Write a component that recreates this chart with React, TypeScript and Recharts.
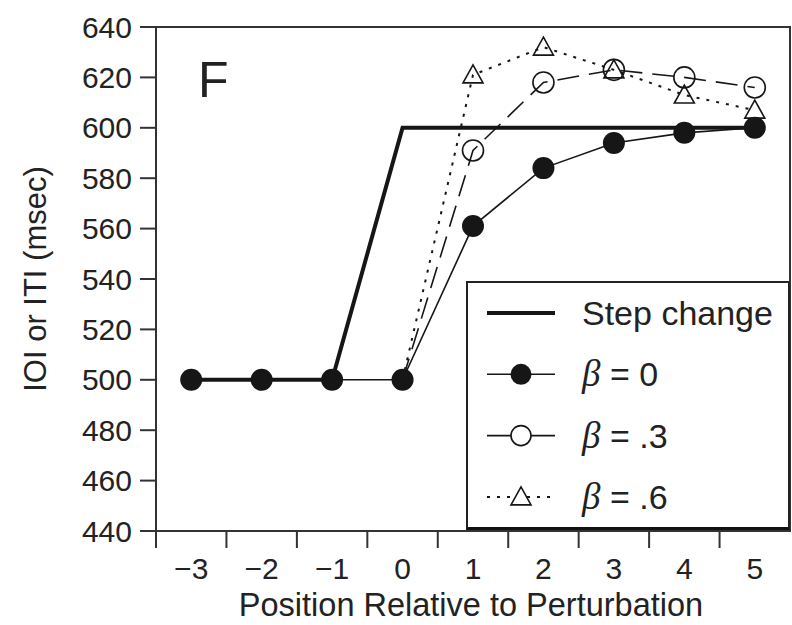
import React from 'react';
import { LineChart, Line, XAxis, YAxis, ReferenceArea, Legend } from 'recharts';

const POSITIONS = [-3, -2, -1, 0, 1, 2, 3, 4, 5];
const STEP_CHANGE = [500, 500, 500, 600, 600, 600, 600, 600, 600];
const BETA_0 = [500, 500, 500, 500, 561, 584, 594, 598, 600];
// the beta .3 / .6 runs are hidden under beta 0 before the perturbation
const BETA_03 = [null, null, null, 500, 591, 618, 623, 620, 616];
const BETA_06 = [null, null, null, 500, 621, 632, 623, 613, 607];
const Y_TICKS = [440, 460, 480, 500, 520, 540, 560, 580, 600, 620, 640];

const data = POSITIONS.map((pos, i) => ({
  pos,
  step: STEP_CHANGE[i],
  b0: BETA_0[i],
  b3: BETA_03[i],
  b6: BETA_06[i],
}));

const FONT = "'Liberation Sans', Arial, Helvetica, sans-serif";
const INK = '#161616';
const W = 792;
const H = 625;
const MARGIN = { top: 27, right: 2, bottom: 0, left: 0 };
const Y_AXIS_W = 156;
// half the distance between two categories, for the tick marks between labels
const HALF_STEP = (W - Y_AXIS_W - MARGIN.right) / 9 / 2;

const fmt = (v: number) => (v < 0 ? `\u2212${-v}` : `${v}`);

const XTick = (props: any) => {
  const { x, y, payload } = props;
  return (
    <g>
      <line x1={x - HALF_STEP} x2={x - HALF_STEP} y1={y} y2={y + 17} stroke="#333" strokeWidth={2} />
      <text x={x} y={y + 48} textAnchor="middle" fontSize={30} fontFamily={FONT} fill="#222">
        {fmt(payload.value)}
      </text>
    </g>
  );
};

const openCircle = (props: any) => {
  const { cx, cy, payload, index } = props;
  if (payload.pos <= 0 || cy == null) return <g key={`c-${index}`} />;
  return <circle key={`c-${index}`} cx={cx} cy={cy} r={10.5} fill="none" stroke={INK} strokeWidth={1.6} />;
};

const openTriangle = (props: any) => {
  const { cx, cy, payload, index } = props;
  if (payload.pos <= 0 || cy == null) return <g key={`t-${index}`} />;
  return (
    <path
      key={`t-${index}`}
      d={`M${cx - 10},${cy + 8} L${cx + 10},${cy + 8} L${cx},${cy - 10} Z`}
      fill="none"
      stroke={INK}
      strokeWidth={1.6}
    />
  );
};

const LEGEND_ROWS = [
  { key: 'step', label: 'Step change' },
  { key: 'b0', label: '0' },
  { key: 'b3', label: '.3' },
  { key: 'b6', label: '.6' },
];

const renderLegend = () => (
  <div
    style={{
      width: '100%',
      height: '100%',
      boxSizing: 'border-box',
      borderLeft: '2px solid #222',
      borderTop: '2px solid #222',
      borderRight: '2px solid #222',
      borderBottom: '3px solid #111',
      background: '#fff',
    }}
  >
    <svg width={320} height={244} style={{ display: 'block' }}>
      {LEGEND_ROWS.map((row, i) => {
        const cy = 30 + i * 61.3;
        return (
          <g key={row.key}>
            {row.key === 'step' && <line x1={19} x2={87} y1={cy} y2={cy} stroke={INK} strokeWidth={4} />}
            {row.key === 'b0' && (
              <>
                <line x1={19} x2={87} y1={cy} y2={cy} stroke={INK} strokeWidth={1.6} />
                <circle cx={53} cy={cy} r={10.5} fill={INK} />
              </>
            )}
            {row.key === 'b3' && (
              <>
                <line x1={19} x2={87} y1={cy} y2={cy} stroke={INK} strokeWidth={1.6} />
                <circle cx={53} cy={cy} r={10} fill="#fff" stroke={INK} strokeWidth={1.6} />
              </>
            )}
            {row.key === 'b6' && (
              <>
                <line x1={19} x2={87} y1={cy} y2={cy} stroke={INK} strokeWidth={2} strokeDasharray="3 7" />
                <path
                  d={`M43,${cy + 8} L63,${cy + 8} L53,${cy - 10} Z`}
                  fill="#fff"
                  stroke={INK}
                  strokeWidth={1.6}
                />
              </>
            )}
            <text x={114} y={cy + 12} fontSize={34} fontFamily={FONT} fill="#222">
              {row.key === 'step' ? (
                row.label
              ) : (
                <>
                  <tspan fontFamily="'Liberation Serif', 'Times New Roman', serif" fontStyle="italic" fontSize={37}>
                    β
                  </tspan>
                  <tspan>{` = ${row.label}`}</tspan>
                </>
              )}
            </text>
          </g>
        );
      })}
    </svg>
  </div>
);

export default function App() {
  return (
    <div style={{ position: 'absolute', left: 0, top: 0, width: W, height: H, background: '#fff' }}>
      <LineChart width={W} height={H} data={data} margin={MARGIN}>
        <XAxis
          dataKey="pos"
          type="number"
          domain={[-3.5, 5.5]}
          ticks={POSITIONS}
          interval={0}
          height={H - 531}
          tickSize={0}
          tickMargin={0}
          tickLine={false}
          axisLine={{ stroke: '#333', strokeWidth: 2 }}
          tick={<XTick />}
          label={{
            content: (p: any) => {
              const vb = p.viewBox;
              return (
                <text x={vb.x + vb.width / 2 - 2} y={vb.y + 85} textAnchor="middle" fontSize={32.5} fontFamily={FONT} fill="#222">
                  Position Relative to Perturbation
                </text>
              );
            },
          }}
        />
        <YAxis
          type="number"
          domain={[440, 640]}
          ticks={Y_TICKS}
          interval={0}
          width={Y_AXIS_W}
          tickSize={16}
          tickMargin={8}
          axisLine={{ stroke: '#333', strokeWidth: 2 }}
          tickLine={{ stroke: '#333', strokeWidth: 2 }}
          tick={{ fontSize: 30, fill: '#222', fontFamily: FONT }}
          label={{
            content: (p: any) => {
              const vb = p.viewBox;
              const x = vb.x + 35;
              const y = vb.y + vb.height / 2;
              return (
                <text
                  x={x}
                  y={y}
                  transform={`rotate(-90 ${x} ${y})`}
                  textAnchor="middle"
                  dominantBaseline="central"
                  fontSize={31}
                  fontFamily={FONT}
                  fill="#222"
                >
                  IOI or ITI (msec)
                </text>
              );
            },
          }}
        />
        <ReferenceArea
          x1={-3.5}
          x2={5.5}
          y1={440}
          y2={640}
          fill="none"
          stroke="#333"
          strokeWidth={2}
          ifOverflow="visible"
          label={{
            content: (p: any) => {
              const vb = p.viewBox;
              return (
                <text x={vb.x + 42} y={vb.y + 70} fontSize={50} fontFamily={FONT} fill="#222">
                  F
                </text>
              );
            },
          }}
        />
        <Legend
          layout="horizontal"
          verticalAlign="middle"
          align="center"
          width={324}
          height={249}
          wrapperStyle={{ left: 466, top: 281, width: 324, height: 249 }}
          content={renderLegend}
        />
        <Line
          dataKey="step"
          name="Step change"
          type="linear"
          stroke={INK}
          strokeWidth={4}
          dot={false}
          isAnimationActive={false}
        />
        <Line
          dataKey="b6"
          name="β = .6"
          type="linear"
          stroke={INK}
          strokeWidth={2}
          strokeDasharray="3 7"
          dot={openTriangle}
          isAnimationActive={false}
        />
        <Line
          dataKey="b3"
          name="β = .3"
          type="linear"
          stroke={INK}
          strokeWidth={1.6}
          strokeDasharray="22 10"
          dot={openCircle}
          isAnimationActive={false}
        />
        <Line
          dataKey="b0"
          name="β = 0"
          type="linear"
          stroke={INK}
          strokeWidth={1.6}
          dot={{ r: 11, fill: INK, stroke: INK, strokeWidth: 0 }}
          isAnimationActive={false}
        />
      </LineChart>
    </div>
  );
}
